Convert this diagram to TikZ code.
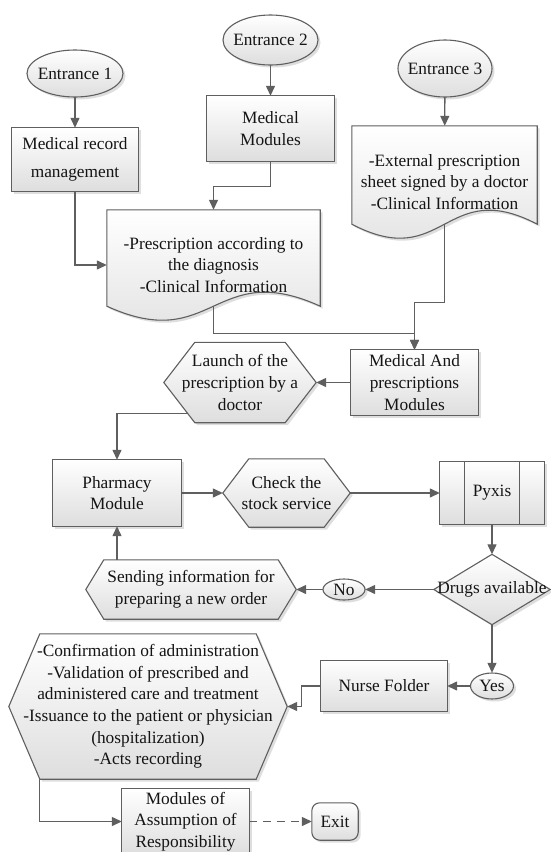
\documentclass[tikz,border=0pt]{standalone}
\usepackage{fontspec}
\setmainfont{Liberation Serif}
\usetikzlibrary{arrows.meta,shapes.geometric,backgrounds,calc}
\definecolor{lineC}{RGB}{95,95,95}
\definecolor{txtC}{RGB}{20,20,20}
\definecolor{shadC}{RGB}{222,222,222}
\tikzset{
  base/.style={font=\fontsize{17.3pt}{21.7pt}\selectfont, text=txtC, align=center, inner sep=0pt},
  grad/.style={top color=white, bottom color=black!13},
  freenode/.style={base, rectangle},
  shapeline/.style={draw=lineC, line width=1.1pt, grad, line join=miter},
  shadowfill/.style={fill=shadC, draw=none, transform canvas={shift={(2.5pt,-2.5pt)}}},
  conn/.style={draw=lineC, line width=1.3pt, -{Triangle[length=10pt,width=9pt]}},
}
\newcommand{\drawboth}[1]{%
  \begin{scope}[on background layer]
    \path[shadowfill] #1;
    \path[shapeline] #1;
  \end{scope}}
\newcommand{\boxback}[1]{\drawboth{(#1.north west) rectangle (#1.south east)}}
\newcommand{\roundback}[1]{\drawboth{[rounded corners=8pt] (#1.north west) rectangle (#1.south east)}}
\newcommand{\ovalback}[3]{\drawboth{(#1.center) ellipse [x radius=#2, y radius=#3]}}
\newcommand{\hexback}[2]{\drawboth{(#1.west) -- ([xshift=#2]#1.north west) -- ([xshift=-#2]#1.north east)
      -- (#1.east) -- ([xshift=-#2]#1.south east) -- ([xshift=#2]#1.south west) -- cycle}}
\newcommand{\docback}[1]{\drawboth{(#1.north west) -- (#1.north east) -- ([yshift=14pt]#1.south east)
      .. controls ([yshift=62.5pt]#1.south) and ([yshift=-34.5pt]#1.south) .. ([yshift=14pt]#1.south west) -- cycle}}
\newcommand{\diamback}[1]{\drawboth{(#1.west) -- (#1.north) -- (#1.east) -- (#1.south) -- cycle}}
\begin{document}
\begin{tikzpicture}[x=1pt,y=-1pt]
\useasboundingbox (0,0) rectangle (550,852);

% entrances
\node[freenode, ellipse, minimum width=96pt, minimum height=47pt] (e1) at (75,73.5) {\makebox[0pt]{Entrance 1}};
\ovalback{e1}{48pt}{23.5pt}
\node[freenode, ellipse, minimum width=95pt, minimum height=50pt] (e2) at (270.5,40) {\makebox[0pt]{Entrance 2}};
\ovalback{e2}{47.5pt}{25pt}
\node[freenode, ellipse, minimum width=94pt, minimum height=57pt] (e3) at (445,68.5) {\makebox[0pt]{Entrance 3}};
\ovalback{e3}{47pt}{28.5pt}

% top boxes
\node[freenode, minimum width=126pt, minimum height=63pt] (medrec) at (75,159.5) {Medical record\\[6.3pt]management};
\boxback{medrec}
\node[freenode, minimum width=127pt, minimum height=65pt] (medmod) at (270.5,128.5) {Medical\\Modules};
\boxback{medmod}

% documents
\node[freenode, minimum width=213pt, minimum height=110pt] (doc1) at (213.5,265) {-Prescription according to\\the diagnosis\\-Clinical Information};
\docback{doc1}
\node[freenode, minimum width=185pt, minimum height=112pt] (doc2) at (444.5,182) {-External prescription\\sheet signed by a doctor\\-Clinical Information};
\docback{doc2}

% middle
\node[freenode, minimum width=127pt, minimum height=65pt] (medand) at (414.5,382.5) {Medical And\\prescriptions\\Modules};
\boxback{medand}
\node[freenode, minimum width=152pt, minimum height=80pt] (launch) at (240,382.5) {Launch of the\\prescription by a\\doctor};
\hexback{launch}{31pt}

\node[freenode, minimum width=128pt, minimum height=66pt] (pharm) at (117,493) {Pharmacy\\Module};
\boxback{pharm}
\node[freenode, minimum width=127pt, minimum height=68pt] (check) at (286.5,493) {Check the\\stock service};
\hexback{check}{26pt}
\node[freenode, minimum width=104pt, minimum height=62pt] (pyx) at (492,493) {Pyxis};
\boxback{pyx}
\draw[draw=lineC, line width=1.1pt] ([xshift=25pt]pyx.north west) -- ([xshift=25pt]pyx.south west);
\draw[draw=lineC, line width=1.1pt] ([xshift=-25pt]pyx.north east) -- ([xshift=-25pt]pyx.south east);

\node[freenode, minimum width=116pt, minimum height=70pt] (diam) at (492,589.5) {Drugs available};
\diamback{diam}
\node[freenode, ellipse, minimum width=42pt, minimum height=21pt] (no) at (344,589.5) {\makebox[0pt]{No}};
\ovalback{no}{21pt}{10.5pt}
\node[freenode, minimum width=210pt, minimum height=59pt] (send) at (191,589.5) {Sending information for\\preparing a new order};
\hexback{send}{18pt}

% lower
\node[freenode, ellipse, minimum width=43pt, minimum height=26pt] (yes) at (492,686) {\makebox[0pt]{Yes}};
\ovalback{yes}{21.5pt}{13pt}
\node[freenode, minimum width=126pt, minimum height=51pt] (nurse) at (384,686) {Nurse Folder};
\boxback{nurse}
\node[freenode, minimum width=278pt, minimum height=145pt] (big) at (148,706.5) {-Confirmation of administration\\-Validation of prescribed and\\administered care and treatment\\-Issuance to the patient or physician\\(hospitalization)\\-Acts recording};
\hexback{big}{31pt}

\node[freenode, minimum width=127pt, minimum height=65pt] (mods) at (185.5,821.5) {Modules of\\Assumption of\\Responsibility};
\boxback{mods}
\node[freenode, minimum width=46pt, minimum height=37pt] (exit) at (335,821.5) {Exit};
\roundback{exit}

% connectors
\draw[conn] (e1) -- (medrec);
\draw[conn] (e2) -- (medmod);
\draw[conn] (e3) -- (doc2);
\draw[conn] (medrec.south) |- (doc1.west);
\draw[conn] (medmod.south) -- ++(0,25) -| (doc1.north);
\coordinate (j1) at ($(medand.north)+(0,-16)$);
\coordinate (j2) at ($(medand.north)+(0,-47)$);
\draw[conn] ([yshift=14pt]doc1.south) |- (j1) -- (medand.north);
\draw[conn] ([yshift=14pt]doc2.south) |- (j2) -- (medand.north);
\draw[conn] (medand.west) -- (launch.east);
\coordinate (l1) at ($(launch.west)!0.775!([xshift=31pt]launch.south west)$);
\draw[conn] (l1) -| (pharm.north);
\draw[conn] (pharm.east) -- (check.west);
\draw[conn] (check.east) -- (pyx.west);
\draw[conn] (pyx.south) -- (diam.north);
\draw[conn] (diam.west) -- (no.east);
\draw[conn] (no.west) -- (send.east);
\draw[conn] (send.north -| pharm.south) -- (pharm.south);
\draw[conn] (diam.south) -- (yes.north);
\draw[conn] (yes.west) -- (nurse.east);
\draw[conn] (nurse.west) -- ++(-19,0) |- (big.east);
\draw[conn] ([xshift=31pt]big.south west) |- (mods.west);
\draw[conn, dash pattern=on 8pt off 6pt] (mods.east) -- (exit.west);
\end{tikzpicture}
\end{document}
